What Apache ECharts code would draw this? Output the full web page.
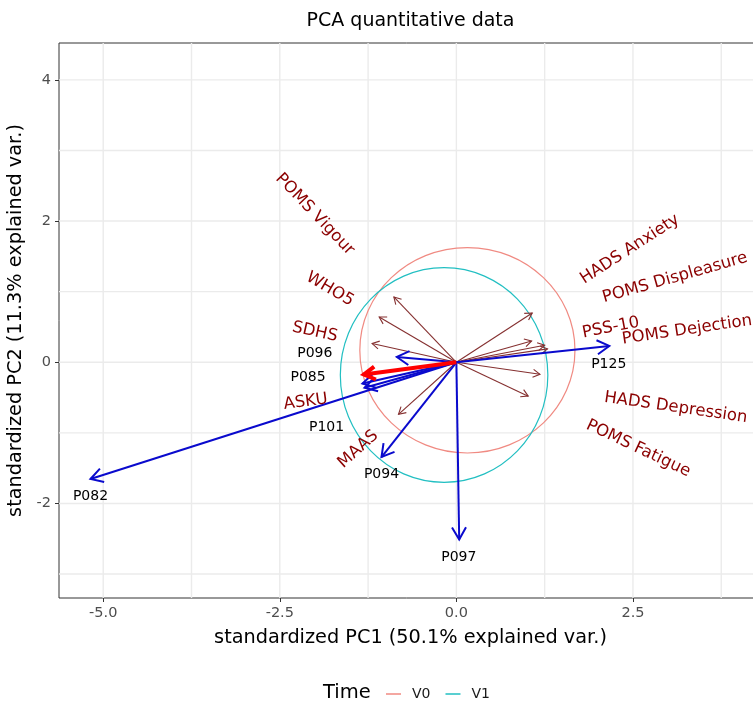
<!DOCTYPE html>
<html>
<head>
<meta charset="utf-8">
<title>PCA quantitative data</title>
<script src="https://cdn.jsdelivr.net/npm/echarts@6/dist/echarts.min.js"></script>
<style>
  html, body { margin: 0; padding: 0; background: #fff; }
  #chart { width: 753px; height: 701px; }
</style>
</head>
<body>
<div id="chart"></div>
<script>
// 变量载荷（箭头终点）
const varNames = ['POMS Vigour', 'WHO5', 'SDHS', 'ASKU', 'MAAS', 'HADS Anxiety',
  'POMS Displeasure', 'PSS-10', 'POMS Dejection', 'HADS Depression', 'POMS Fatigue'];
const varX = [-0.885, -1.093, -1.193, -1.31, -0.819, 1.074, 1.065, 1.25, 1.29, 1.183, 1.017];
const varY = [0.925, 0.642, 0.265, -0.174, -0.737, 0.698, 0.302, 0.24, 0.19, -0.17, -0.48];
// 变量标签中心
const varLabelX = [-2.004, -1.79, -2.004, -2.134, -1.39, 2.457, 3.095, 2.186, 3.265, 3.106, 2.575];
const varLabelY = [2.096, 1.034, 0.429, -0.562, -1.232, 1.6, 1.197, 0.489, 0.457, -0.643, -1.222];
const highlightVar = 'ASKU';

// 受试者得分（蓝色箭头）
const obsNames = ['P082', 'P094', 'P096', 'P085', 'P101', 'P097', 'P125'];
const obsX = [-5.18, -1.06, -0.843, -1.33, -1.30, 0.04, 2.165];
const obsY = [-1.653, -1.342, 0.075, -0.30, -0.36, -2.51, 0.231];
const obsLabelX = [-5.18, -1.06, -2.004, -2.10, -1.838, 0.035, 2.157];
const obsLabelY = [-1.898, -1.586, 0.123, -0.208, -0.916, -2.77, -0.028];

// 椭圆 (Time)
const groups = ['V0', 'V1'];
const ellCx = [0.156, -0.174];
const ellCy = [0.17, -0.18];
const ellRx = [1.523, 1.469];
const ellRy = [1.455, 1.52];

// 刻度
const xTicks = [-5, -2.5, 0, 2.5];
const xMinor = [-3.75, -1.25, 1.25, 3.75];
const yTicks = [-2, 0, 2, 4];
const yMinor = [-3, -1, 1, 3];

const FONT = '"DejaVu Sans", "Liberation Sans", sans-serif';
const groupColors = ['#F08A82', '#22BFC2'];

function arrowItem(stroke, width, head) {
  return function (params, api) {
    const o = api.coord([0, 0]);
    const p = api.coord([api.value(0), api.value(1)]);
    const a = Math.atan2(p[1] - o[1], p[0] - o[0]);
    const h = Math.PI / 6;
    const p1 = [p[0] - head * Math.cos(a - h), p[1] - head * Math.sin(a - h)];
    const p2 = [p[0] - head * Math.cos(a + h), p[1] - head * Math.sin(a + h)];
    return {
      type: 'group',
      children: [
        { type: 'line', shape: { x1: o[0], y1: o[1], x2: p[0], y2: p[1] },
          style: { stroke: stroke, lineWidth: width, lineCap: 'butt' } },
        { type: 'polyline', shape: { points: [p1, p, p2] },
          style: { stroke: stroke, lineWidth: width, fill: null } }
      ]
    };
  };
}

function textItem(color, size, rotate) {
  return function (params, api) {
    const c = api.coord([api.value(0), api.value(1)]);
    let rot = 0;
    if (rotate) {
      const o = api.coord([0, 0]);
      const p = api.coord([api.value(2), api.value(3)]);
      rot = Math.atan(-(p[1] - o[1]) / (p[0] - o[0]));
    }
    return {
      type: 'text',
      x: c[0], y: c[1], rotation: rot,
      style: { text: api.value(4), fill: color, fontSize: size, fontFamily: FONT,
        align: 'center', verticalAlign: 'middle' }
    };
  };
}

function gridLines(vertical, color, width) {
  return function (params, api) {
    const cs = params.coordSys;
    if (vertical) {
      const x = api.coord([api.value(0), 0])[0];
      return { type: 'line', shape: { x1: x, y1: cs.y, x2: x, y2: cs.y + cs.height },
        style: { stroke: color, lineWidth: width } };
    }
    const y = api.coord([0, api.value(1)])[1];
    return { type: 'line', shape: { x1: cs.x, y1: y, x2: cs.x + cs.width, y2: y },
      style: { stroke: color, lineWidth: width } };
  };
}

const chart = echarts.init(document.getElementById('chart'), null, { renderer: 'canvas' });

const varData = varNames.filter(n => n !== highlightVar).map(n => {
  const i = varNames.indexOf(n);
  return [varX[i], varY[i]];
});
const hi = varNames.indexOf(highlightVar);

const series = [
  { type: 'custom', name: 'gx', z: 1, silent: true, renderItem: gridLines(true, '#ebebeb', 1.4),
    data: xTicks.map(v => [v, 0]).concat(xMinor.map(v => [v, 0])) },
  { type: 'custom', name: 'gy', z: 1, silent: true, renderItem: gridLines(false, '#ebebeb', 1.4),
    data: yTicks.map(v => [0, v]).concat(yMinor.map(v => [0, v])) }
];

groups.forEach((g, i) => {
  series.push({
    type: 'custom', name: g, z: 3, silent: true,
    itemStyle: { color: groupColors[i] },
    renderItem: function (params, api) {
      const c = api.coord([api.value(0), api.value(1)]);
      const s = api.size([api.value(2), api.value(3)]);
      return { type: 'ellipse', shape: { cx: c[0], cy: c[1], rx: s[0], ry: s[1] },
        style: { stroke: groupColors[i], lineWidth: 1.2, fill: null } };
    },
    data: [[ellCx[i], ellCy[i], ellRx[i], ellRy[i]]]
  });
});

series.push(
  { type: 'custom', name: 'vars', z: 4, silent: true, clip: false,
    renderItem: arrowItem('#853030', 1.1, 8), data: varData },
  { type: 'custom', name: 'obs', z: 5, silent: true, clip: false,
    renderItem: arrowItem('#0a0acd', 2, 14),
    data: obsX.map((x, i) => [x, obsY[i]]) },
  { type: 'custom', name: 'hi', z: 6, silent: true, clip: false,
    renderItem: arrowItem('#ff0000', 4, 13), data: [[varX[hi], varY[hi]]] },
  { type: 'custom', name: 'varLabels', z: 7, silent: true, clip: false,
    renderItem: textItem('#8B0000', 16.5, true),
    data: varNames.map((n, i) => [varLabelX[i], varLabelY[i], varX[i], varY[i], n]) },
  { type: 'custom', name: 'obsLabels', z: 7, silent: true, clip: false,
    renderItem: textItem('#000000', 14, false),
    data: obsNames.map((n, i) => [obsLabelX[i], obsLabelY[i], obsX[i], obsY[i], n]) }
);

const option = {
  animation: false,
  backgroundColor: '#ffffff',
  textStyle: { fontFamily: FONT },
  graphic: [
    { type: 'text', x: 410.5, y: 21, style: { text: 'PCA quantitative data', fill: '#000',
      fontSize: 19, fontFamily: FONT, align: 'center', verticalAlign: 'middle' } },
    { type: 'text', x: 323, y: 693, style: { text: 'Time', fill: '#000',
      fontSize: 19.5, fontFamily: FONT, align: 'left', verticalAlign: 'middle' } }
  ],
  legend: {
    data: groups, left: 381, top: 682, icon: 'rect', itemWidth: 15, itemHeight: 1.5,
    itemGap: 15, selectedMode: false,
    textStyle: { fontSize: 14, color: '#1a1a1a', fontFamily: FONT, padding: [0, 0, 0, 6] }
  },
  grid: {
    left: 59, top: 43, width: 703, height: 555, show: true,
    outerBoundsMode: 'none', containLabel: false,
    borderColor: '#333333', borderWidth: 1, backgroundColor: '#ffffff'
  },
  xAxis: {
    type: 'value', min: -5.626, max: 4.327,
    name: 'standardized PC1 (50.1% explained var.)', nameLocation: 'middle', nameGap: 30,
    nameTextStyle: { fontSize: 19.3, color: '#000', fontFamily: FONT },
    axisLine: { show: false, onZero: false },
    axisTick: { show: true, customValues: xTicks, length: 4, lineStyle: { color: '#333333' } },
    axisLabel: { customValues: xTicks, margin: 8, fontSize: 14.5, color: '#4d4d4d',
      fontFamily: FONT, formatter: v => v.toFixed(1) },
    splitLine: { show: false }
  },
  yAxis: {
    type: 'value', min: -3.339, max: 4.522,
    name: 'standardized PC2 (11.3% explained var.)', nameLocation: 'middle', nameGap: 24,
    nameTextStyle: { fontSize: 19.3, color: '#000', fontFamily: FONT },
    axisLine: { show: false, onZero: false },
    axisTick: { show: true, customValues: yTicks, length: 4, lineStyle: { color: '#333333' } },
    axisLabel: { customValues: yTicks, margin: 8, fontSize: 14.5, color: '#4d4d4d',
      fontFamily: FONT, formatter: v => String(v) },
    splitLine: { show: false }
  },
  series: series
};

chart.setOption(option);
</script>
</body>
</html>
